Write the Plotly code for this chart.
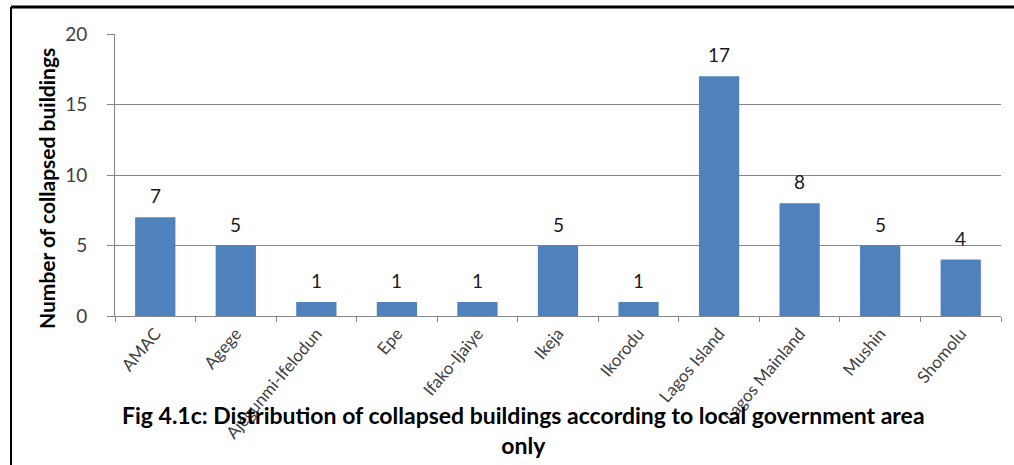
import plotly.graph_objects as go

# Collapsed buildings per local government area
areas = ["AMAC", "Agege", "Ajegunmi-Ifelodun", "Epe", "Ifako-Ijaiye", "Ikeja",
         "Ikorodu", "Lagos Island", "Lagos Mainland", "Mushin", "Shomolu"]
collapsed = [7, 5, 1, 1, 1, 5, 1, 17, 8, 5, 4]
y_ticks = [0, 5, 10, 15, 20]

W, H = 1014, 465
L, R, T, B = 115, 13, 34, 149
plot_w = W - L - R
plot_h = H - T - B

def px_x(px):
    return (px - L) / plot_w

def px_y(py):
    return (H - B - py) / plot_h

fig = go.Figure()
fig.add_trace(go.Bar(
    x=areas, y=collapsed,
    marker=dict(color="#4F81BD", line=dict(width=0)),
    width=0.5,
    hoverinfo="x+y",
))

# value labels above each bar
for a, v in zip(areas, collapsed):
    fig.add_annotation(x=a, y=v, text=str(v), showarrow=False,
                       yanchor="bottom", yshift=8,
                       font=dict(family="Lato", size=19, color="#1a1a1a"))

# axis title on the left
fig.add_annotation(xref="paper", yref="paper", x=px_x(46), y=px_y(189),
                   text="<b>Number of collapsed buildings</b>", textangle=-90,
                   showarrow=False, xanchor="center", yanchor="middle",
                   font=dict(family="Lato", size=21, color="#000000"))

# figure caption below the chart
fig.add_annotation(xref="paper", yref="paper", x=px_x(523), y=px_y(430),
                   text="<b>Fig 4.1c: Distribution of collapsed buildings according to local government area<br>only</b>",
                   showarrow=False, xanchor="center", yanchor="middle", align="center",
                   font=dict(family="Lato", size=23, color="#000000"))

# frame lines on top and left
fig.add_shape(type="line", xref="paper", yref="paper",
              x0=px_x(11), x1=px_x(W), y0=px_y(7), y1=px_y(7),
              line=dict(color="#000000", width=3))
fig.add_shape(type="line", xref="paper", yref="paper",
              x0=px_x(11), x1=px_x(11), y0=px_y(7), y1=px_y(H + 5),
              line=dict(color="#000000", width=2))

fig.update_layout(
    width=W, height=H,
    margin=dict(l=L, r=R, t=T, b=B, autoexpand=False),
    paper_bgcolor="#ffffff", plot_bgcolor="#ffffff",
    showlegend=False,
    bargap=0.5,
    xaxis=dict(
        showline=True, linecolor="#868686", linewidth=1,
        ticks="outside", ticklen=5, tickcolor="#868686",
        tickson="boundaries",
        tickangle=-50,
        tickfont=dict(family="Lato", size=17, color="#404040"),
        showgrid=False, automargin=False,
    ),
    yaxis=dict(
        range=[0, 20], tickvals=y_ticks,
        showline=True, linecolor="#868686", linewidth=1,
        ticks="outside", ticklen=7, tickcolor="#868686",
        showgrid=True, gridcolor="#868686", gridwidth=1,
        zeroline=False,
        ticklabelstandoff=16,
        tickfont=dict(family="Lato", size=19, color="#404040"),
        automargin=False,
    ),
)

fig.write_html("out.html")
